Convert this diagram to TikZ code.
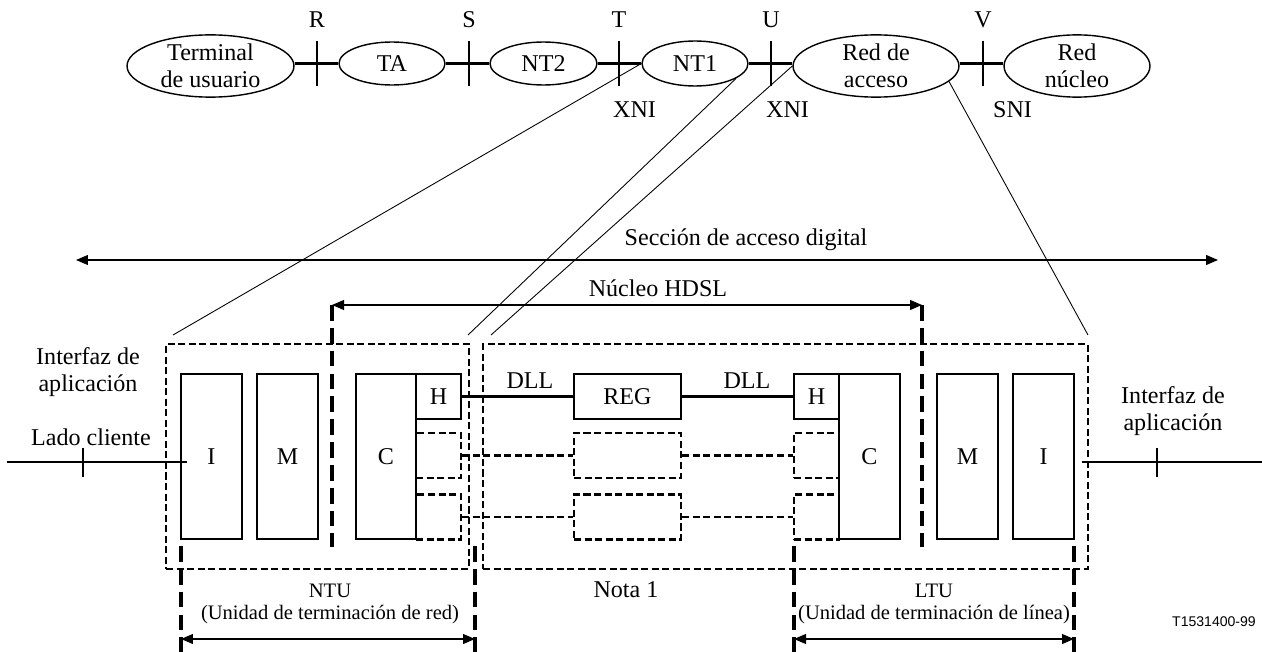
\documentclass[tikz,border=0pt]{standalone}
\usepackage{fontspec}
\setmainfont{Liberation Serif}
\setsansfont{Liberation Sans}
\usetikzlibrary{shapes.geometric,arrows.meta}

\tikzset{
  elip/.style={draw, ellipse, line width=0.8pt, inner sep=0pt, align=center},
  caja/.style={draw, line width=0.6pt, inner sep=0pt, minimum width=1.22cm, minimum height=3.3cm},
  chica/.style={draw, line width=0.6pt, inner sep=0pt, minimum width=0.9cm, minimum height=0.9cm},
  punt/.style={draw, line width=1.3pt, inner sep=0pt, dash pattern=on 4pt off 2pt},
  gruesa/.style={line width=2.2pt, dash pattern=on 9pt off 4pt},
  raya/.style={line width=1.2pt},
  fina/.style={line width=0.5pt},
  flecha/.style={line width=0.6pt, {Triangle[length=0.24cm,width=0.2cm]}-{Triangle[length=0.24cm,width=0.2cm]}},
  pie/.style={align=center, font=\fontsize{11.7}{12.5}\selectfont}
}

\begin{document}
\begin{tikzpicture}[x=0.02cm, y=-0.02cm, every node/.style={font=\fontsize{13.7}{15.4}\selectfont}]
\useasboundingbox (0,0) rectangle (1262,652);

% modelo de referencia
\node[elip, minimum width=3.34cm, minimum height=1.24cm] (term) at (210.5,66) {Terminal\\de usuario};
\node[elip, minimum width=2.12cm, minimum height=0.86cm] (ta) at (392,63.5) {TA};
\node[elip, minimum width=2.14cm, minimum height=0.86cm] (nt2) at (543.5,63.5) {NT2};
\node[elip, minimum width=2.12cm, minimum height=0.9cm] (nt1) at (695,63.5) {NT1};
\node[elip, minimum width=3.32cm, minimum height=1.24cm] (red) at (876,66) {Red de\\acceso};
\node[elip, minimum width=2.92cm, minimum height=1.24cm] (nucleo) at (1077,66) {Red\\núcleo};

\draw[raya] (ta.west -| term.east) -- (ta.west);
\draw[raya] (ta.east) -- (nt2.west);
\draw[raya] (nt2.east) -- (nt1.west);
\draw[raya] (nt1.east) -- (nt1.east -| red.west);
\draw[raya] (nt1.east -| red.east) -- (nt1.east -| nucleo.west);

\coordinate (pR) at (317,63.5);
\coordinate (pS) at (469,63.5);
\coordinate (pT) at (619,63.5);
\coordinate (pU) at (771,63.5);
\coordinate (pV) at (983,63.5);
\foreach \p in {pR,pS,pT,pU,pV}
  \draw[raya] (\p) +(0,-22.5) -- +(0,22.5);

\node (lR) at (317,20) {R};
\node (lS) at (469,20) {S};
\node (lT) at (619,20) {T};
\node (lU) at (771,20) {U};
\node (lV) at (983,20) {V};
\node[anchor=west] (xni1) at (607,110) {XNI};
\node[anchor=west] (xni2) at (760,110) {XNI};
\node[anchor=west] (sni) at (987,110) {SNI};

% ampliacion
\coordinate (s1) at (173,335);
\coordinate (s2) at (468,335);
\coordinate (s3) at (491,335);
\coordinate (s4) at (1088,335);
\draw[fina] (nt1.west) -- (s1);
\draw[fina] (nt1.-20) -- (s2);
\draw[fina] (red.west) -- (s3);
\draw[fina] (red.-12) -- (s4);

\coordinate (sa1) at (76,260);
\coordinate (sa2) at (1218,260);
\draw[flecha] (sa1) -- (sa2);
\node (secc) at (746,240) {Sección de acceso digital};

\coordinate (hl) at (332,305);
\coordinate (hr) at (922,305);
\coordinate (hlb) at (332,547);
\coordinate (hrb) at (922,547);
\draw[flecha] (hl) -- (hr);
\draw[gruesa] (hl) -- (hlb);
\draw[gruesa] (hr) -- (hrb);
\node (nuc) at (658,288) {Núcleo HDSL};

% unidades
\node[punt, minimum width=6.06cm, minimum height=4.5cm] (ntu) at (317.5,456.5) {};
\node[punt, minimum width=12.1cm, minimum height=4.5cm] (linea) at (785.5,456.5) {};

\node[caja] (iL) at (211.5,456.5) {I};
\node[caja] (mL) at (287.5,456.5) {M};
\node[caja, minimum width=1.2cm] (cL) at (386,456.5) {C};
\node[chica] (hL) at (438.5,396.5) {H};
\node[chica, punt] (d1L) at (438.5,455.5) {};
\node[chica, punt] (d2L) at (438.5,517) {};

\node[chica, minimum width=2.14cm] (reg) at (627.5,396.5) {REG};
\node[chica, punt, minimum width=2.14cm] (d1M) at (627.5,455.5) {};
\node[chica, punt, minimum width=2.14cm] (d2M) at (627.5,517) {};

\node[chica] (hR) at (816.5,396.5) {H};
\node[chica, punt] (d1R) at (816.5,455.5) {};
\node[chica, punt] (d2R) at (816.5,517) {};
\node[caja] (cR) at (869.5,456.5) {C};
\node[caja] (mR) at (967.5,456.5) {M};
\node[caja] (iR) at (1043.5,456.5) {I};

\draw[raya] (hL) -- (reg);
\draw[raya] (reg) -- (hR);
\draw[punt] (d1L) -- (d1M);
\draw[punt] (d1M) -- (d1R);
\draw[punt] (d2L) -- (d2M);
\draw[punt] (d2M) -- (d2R);
\node (dll1) at (530,381) {DLL};
\node (dll2) at (747,381) {DLL};

% interfaces de aplicacion
\coordinate (cliL) at (7,462);
\coordinate (cliR) at (1262,462);
\coordinate (tL) at (83,462);
\coordinate (tR) at (1157,462);
\draw[raya] (cliL) -- ([xshift=0.14cm]iL.west |- cliL);
\draw[raya] ([xshift=0.14cm]iR.east |- cliR) -- (cliR);
\draw[raya] (tL) +(0,-14.5) -- +(0,14.5);
\draw[raya] (tR) +(0,-14.5) -- +(0,14.5);
\node[align=center] (intL) at (88,372.5) {Interfaz de\\aplicación};
\node (lado) at (91,437) {Lado cliente};
\node[align=center] (intR) at (1173,411) {Interfaz de\\aplicación};

% NTU y LTU
\coordinate (n1) at (181,546);
\coordinate (n1b) at (181,652);
\coordinate (n2) at (475,546);
\coordinate (n2b) at (475,652);
\coordinate (l1) at (794,546);
\coordinate (l1b) at (794,652);
\coordinate (l2) at (1074,546);
\coordinate (l2b) at (1074,652);
\draw[gruesa] (n1) -- (n1b);
\draw[gruesa] (n2) -- (n2b);
\draw[gruesa] (l1) -- (l1b);
\draw[gruesa] (l2) -- (l2b);
\coordinate (na) at (181,639);
\coordinate (nb) at (475,639);
\coordinate (la) at (794,639);
\coordinate (lb) at (1074,639);
\draw[flecha] (na) -- (nb);
\draw[flecha] (la) -- (lb);

\node[pie] (ntuT) at (330,604) {NTU\\(Unidad de terminación de red)};
\node[pie] (ltuT) at (934,604) {LTU\\(Unidad de terminación de línea)};
\node (nota1) at (626,590) {Nota 1};
\node[font=\sffamily\fontsize{8}{10}\selectfont] (ref) at (1214,622) {T1531400-99};

\end{tikzpicture}
\end{document}
